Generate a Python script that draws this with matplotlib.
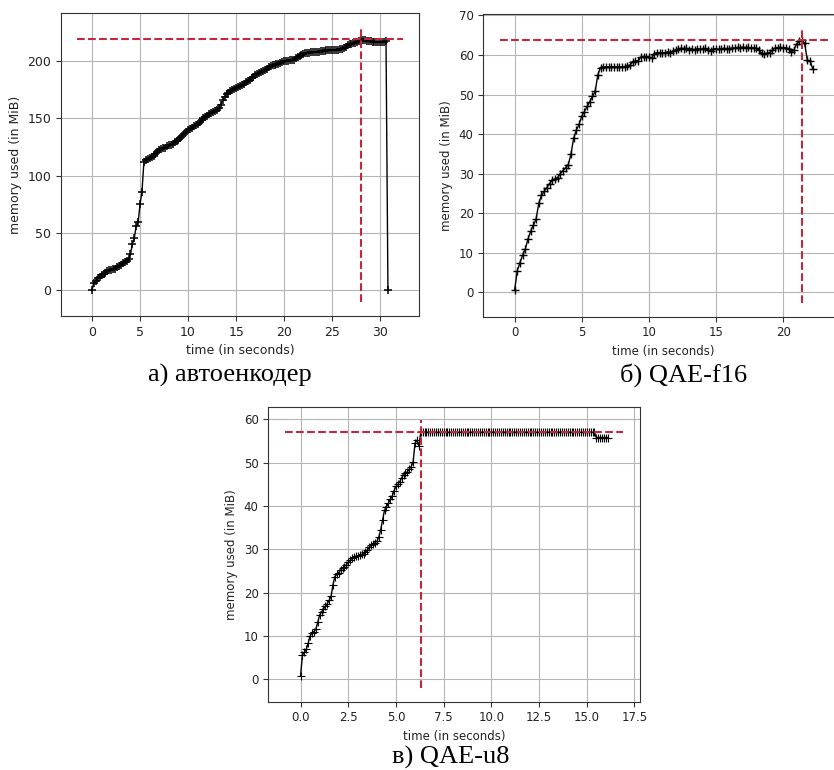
import numpy as np
import matplotlib
matplotlib.use("Agg")
import matplotlib.pyplot as plt

# memory samples (MiB), one value every DT seconds
DT_A = 0.2
mem_a = [
    0, 6, 8, 10, 11.5,
    13, 14, 15, 16.5, 17,
    17.5, 18, 18.5, 19.5, 20.5,
    21.5, 23, 24.5, 25.5, 27,
    31, 40, 45, 56, 59,
    75, 86, 112, 113.5, 114.5,
    115.5, 116.5, 117.5, 119, 120.5,
    122, 123, 124, 124.5, 125.5,
    126.5, 127, 128, 129, 130,
    131.5, 133, 134.5, 136.5, 138,
    140, 141, 142, 143, 144.5,
    145.5, 146.5, 148.5, 150, 151.5,
    152.5, 153.5, 154.5, 155.5, 156.5,
    157.5, 159, 162, 166, 169,
    171, 172.5, 174, 175, 176,
    177, 177.5, 178.5, 179.5, 180.5,
    181.5, 182.5, 183.5, 185, 186.5,
    188, 189, 190, 191, 191.5,
    192.5, 193.5, 195, 196, 196.5,
    197, 197.5, 198, 198.5, 199.5,
    200, 200.5, 200.5, 201, 201,
    201.5, 202.5, 203.5, 204.5, 205.5,
    206.5, 207, 207.5, 207.5, 208,
    208, 208.5, 208.5, 208.5, 209,
    209, 209, 209.5, 209.5, 209.5,
    209.5, 210, 210, 210, 210.5,
    211, 211.5, 212.5, 214, 215,
    215.5, 216, 216.5, 217, 218,
    219.3, 219, 218.5, 218, 217.5,
    217.5, 217, 217, 217, 217,
    217, 217, 217, 217.5, 0,
]

DT_B = 0.2
mem_b = [
    0.5, 5.5, 7.5, 9.5, 11,
    13.5, 15.5, 17, 18.5, 22.5,
    24.5, 25.5, 26.5, 27.5, 28.3,
    28.7, 29, 30, 30.8, 31.5,
    32.3, 35, 39, 41, 42.5,
    44.5, 45.7, 47, 48.2, 49.5,
    50.8, 55, 56.8, 57, 57,
    57, 57, 57, 57, 57,
    57, 57, 57.2, 57.5, 58.2,
    58.5, 58.5, 59.5, 59.6, 59.6,
    59.5, 59.2, 60.3, 60.6, 60.6,
    60.6, 60.5, 60.8, 60.5, 61,
    61.2, 61.5, 61.7, 61.6, 61.7,
    61.3, 61.6, 61.2, 61.6, 61.5,
    61.4, 61.7, 61.2, 60.9, 61.5,
    61.6, 61.4, 61.5, 61.7, 61.5,
    61.6, 61.8, 61.7, 61.9, 61.8,
    62, 61.8, 61.9, 61.7, 61.8,
    61.7, 61.2, 60.4, 60.2, 60.5,
    60.6, 61.2, 61.8, 61.8, 61.9,
    61.8, 61.8, 61.6, 60.7, 61.2,
    62.8, 63.4, 63.7, 62.9, 58.7,
    58.5, 56.5,
]

DT_C = 0.1
mem_c = [
    0.7, 5.6, 6.2, 6.9, 8.3, 10.0, 10.6, 11.0, 11.5, 13.1,
    14.8, 15.5, 16.2, 16.8, 17.4, 18.2, 19.1, 21.8, 23.7, 24.2,
    24.6, 25.2, 25.6, 26.0, 26.4, 27.0, 27.5, 27.9, 28.2, 28.4,
    28.5, 28.6, 28.8, 28.9, 29.3, 29.8, 30.5, 31.0, 31.2, 31.5,
    31.8, 32.8, 34.5, 36.8, 39.0, 39.8, 40.6, 41.5, 42.2, 43.5,
    44.5, 45.0, 45.6, 46.5, 47.2, 47.5, 47.9, 48.5, 49.1, 50.2,
    54.5, 55.2, 53.8, 57.0, 57.0, 57.0, 57.0, 57.0, 57.0, 57.0,
    57.0, 57.0, 57.0, 57.0, 57.0, 57.0, 57.0, 57.0, 57.0, 57.0,
    57.0, 57.0, 57.0, 57.0, 57.0, 57.0, 57.0, 57.0, 57.0, 57.0,
    57.0, 57.0, 57.0, 57.0, 57.0, 57.0, 57.0, 57.0, 57.0, 57.0,
    57.0, 57.0, 57.0, 57.0, 57.0, 57.0, 57.0, 57.0, 57.0, 57.0,
    57.0, 57.0, 57.0, 57.0, 57.0, 57.0, 57.0, 57.0, 57.0, 57.0,
    57.0, 57.0, 57.0, 57.0, 57.0, 57.0, 57.0, 57.0, 57.0, 57.0,
    57.0, 57.0, 57.0, 57.0, 57.0, 57.0, 57.0, 57.0, 57.0, 57.0,
    57.0, 57.0, 57.0, 57.0, 57.0, 57.0, 57.0, 57.0, 57.0, 57.0,
    57.0, 57.0, 57.0, 57.0, 57.0, 55.8, 55.8, 55.8, 55.8, 55.8,
    55.8, 55.8,
]

captions = ["а) автоенкодер", "б) QAE-f16", "в) QAE-u8"]

RED = "#c3283a"


def plot_memory(ax, mem, dt, fs, mew):
    """mprof-style plot: samples with '+' markers, dashed lines at the peak."""
    mem = np.asarray(mem, dtype=float)
    t = np.arange(len(mem)) * dt
    ax.plot(t, mem, "+-", color="k", lw=1.0, ms=6, mew=mew)
    ax.grid(True, color="#b5b5b5", lw=0.8)

    imax = int(np.argmax(mem))
    x0, x1 = ax.get_xlim()
    y0, y1 = ax.get_ylim()
    ax.hlines(mem[imax], x0 + 0.001, x1 - 0.001, colors=RED, linestyles="--", lw=1.5)
    ax.vlines(t[imax], y0, y1, colors=RED, linestyles="--", lw=1.5)

    ax.set_xlabel("time (in seconds)", fontsize=fs, color="#222222")
    ax.set_ylabel("memory used (in MiB)", fontsize=fs, color="#222222")
    ax.tick_params(labelsize=fs, colors="#333333", labelcolor="#222222")
    for s in ax.spines.values():
        s.set_color("#333333")


def main():
    fig = plt.figure(figsize=(8.34, 7.70), dpi=100)

    ax_a = fig.add_axes([0.0731, 0.5896, 0.4293, 0.3935])
    ax_b = fig.add_axes([0.5795, 0.5887, 0.4325, 0.3931])
    ax_c = fig.add_axes([0.3217, 0.0887, 0.4457, 0.3831])

    plot_memory(ax_a, mem_a, DT_A, 9, 1.1)
    plot_memory(ax_b, mem_b, DT_B, 8.5, 1.0)
    plot_memory(ax_c, mem_c, DT_C, 8.5, 0.8)

    cap_font = dict(family="Liberation Serif", fontsize=19, ha="center", va="center")
    fig.text(230 / 834, 1 - 375 / 770, captions[0], **cap_font)
    fig.text(684 / 834, 1 - 375 / 770, captions[1], **cap_font)
    fig.text(451 / 834, 1 - 757 / 770, captions[2], **cap_font)

    fig.savefig("out.png", dpi=100)


if __name__ == "__main__":
    main()
